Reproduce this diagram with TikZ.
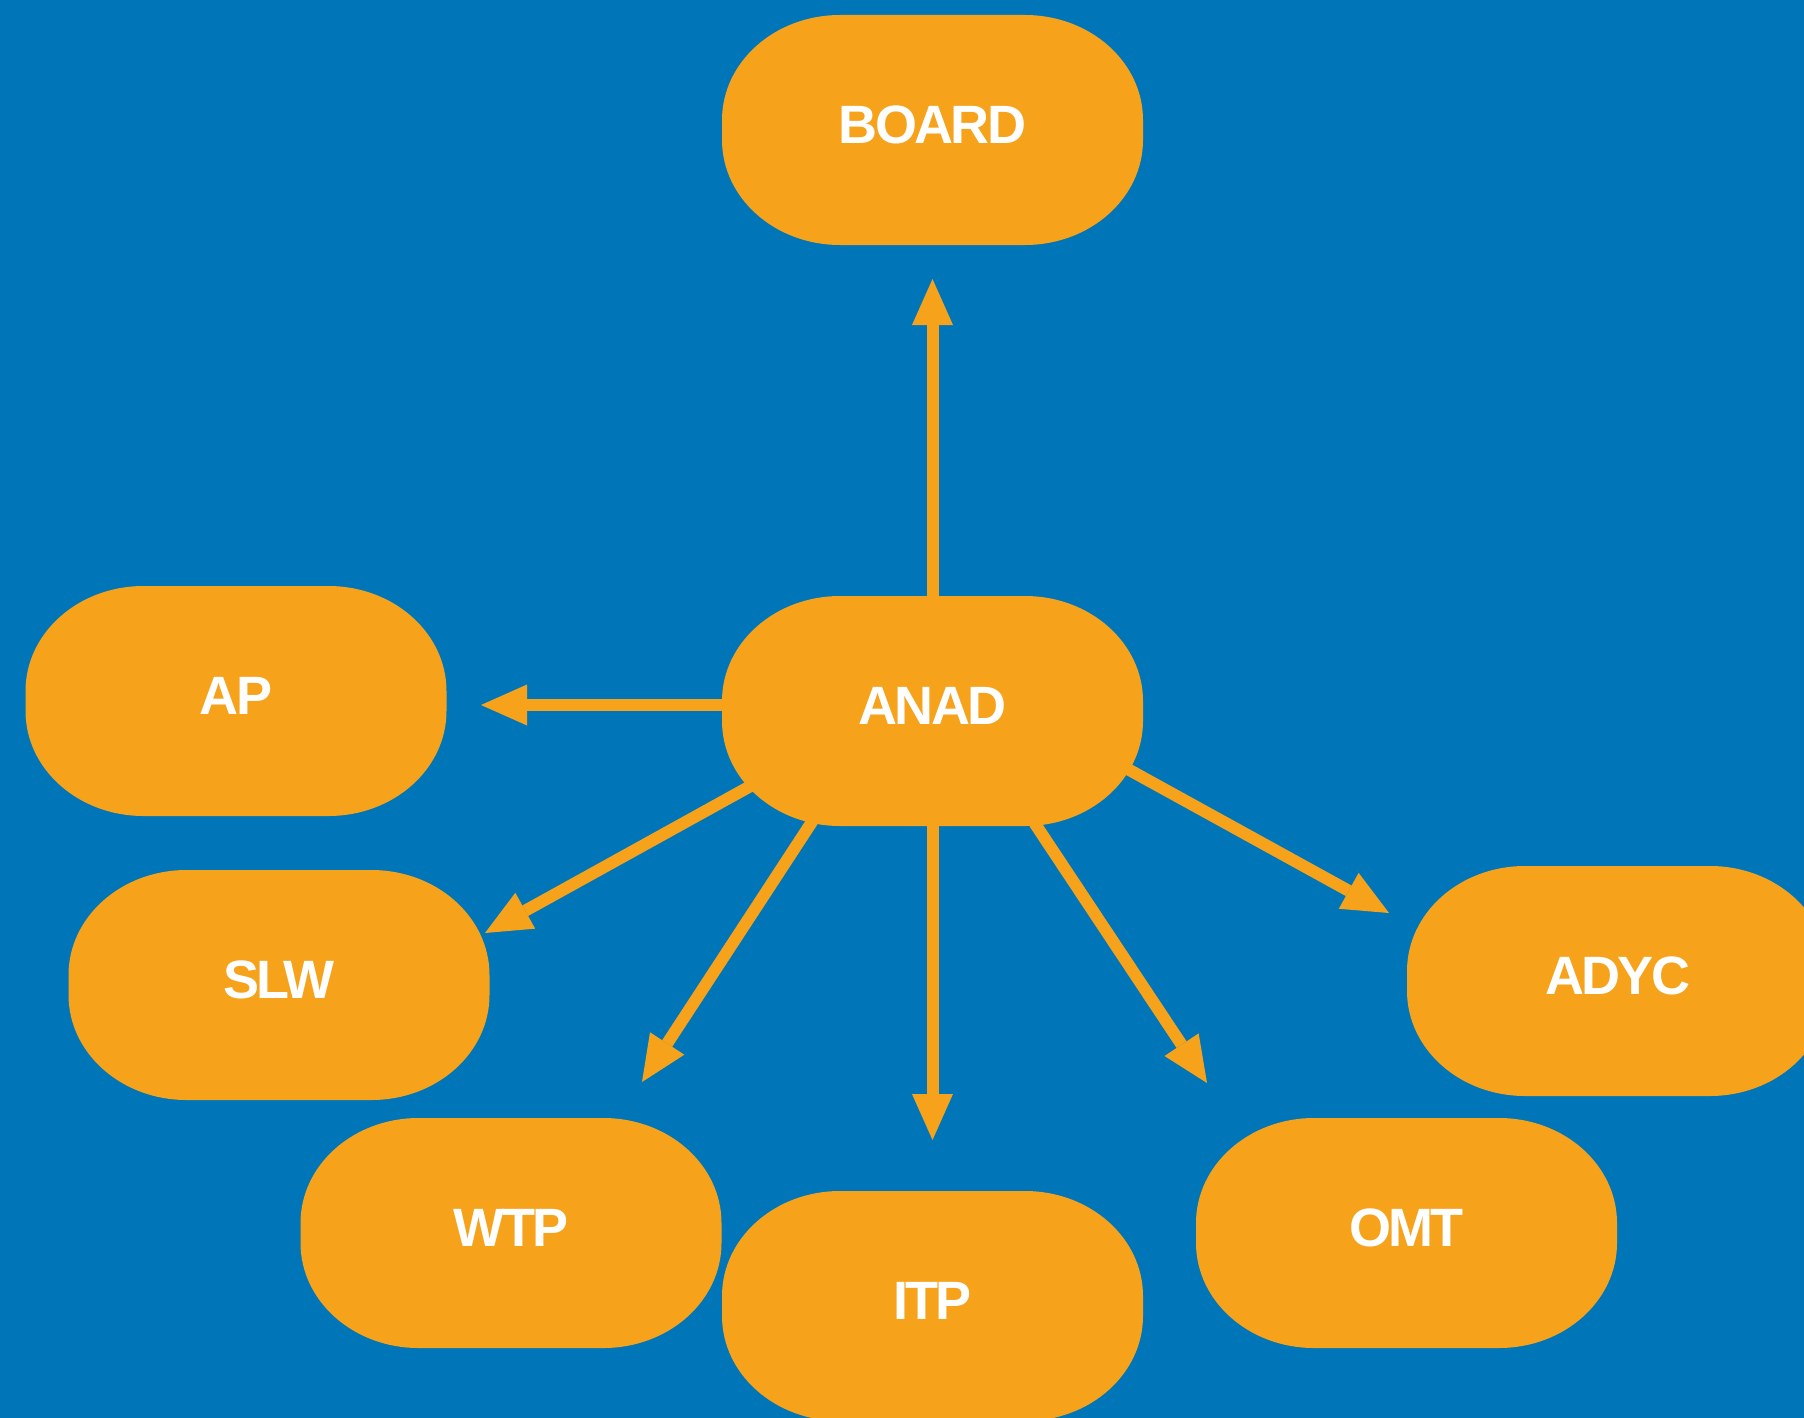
\documentclass[tikz,border=0pt]{standalone}
\usepackage{fontspec}
\setmainfont{Liberation Sans}
\newfontfamily\boxfont[LetterSpace=-5]{Liberation Sans}
\usetikzlibrary{arrows.meta,calc}
\definecolor{bgblue}{RGB}{0,118,185}
\definecolor{orng}{RGB}{246,162,26}
\tikzset{
  pillfill/.style={fill=orng},
  box/.style={rectangle, draw=none, fill=none,
    minimum width=421pt, minimum height=230pt, inner sep=0pt,
    text=white, text depth=10pt,
    font=\boxfont\bfseries\fontsize{54}{60}\selectfont},
  arr/.style={draw=orng, line width=12pt, line cap=butt,
    -{Triangle[length=46pt,width=41pt,line width=0pt]}}
}
\newcommand\pillat[2]{%
  \fill[pillfill,shift={(#1,#2)}] (-92.5,-115) -- (92.5,-115)
    arc[start angle=-90,end angle=0,x radius=118,y radius=105]
    -- (210.5,10)
    arc[start angle=0,end angle=90,x radius=118,y radius=105]
    -- (-92.5,115)
    arc[start angle=90,end angle=180,x radius=118,y radius=105]
    -- (-210.5,-10)
    arc[start angle=180,end angle=270,x radius=118,y radius=105] -- cycle;}
\begin{document}
\begin{tikzpicture}[x=1pt,y=-1pt]
\useasboundingbox (0,0) rectangle (1804,1418);
\clip (0,0) rectangle (1804,1418);
\fill[bgblue] (0,0) rectangle (1804,1418);

\pillat{932.5}{130}
\pillat{932.5}{711}
\pillat{236}{701}
\pillat{279}{985}
\pillat{511}{1233}
\pillat{932.5}{1306}
\pillat{1406.5}{1233}
\pillat{1617.5}{981}

\node[box] (BOARD) at (932.5,130) {BOARD};
\node[box] (ANAD)  at (932.5,711) {ANAD};
\node[box] (AP)    at (236,701)   {AP};
\node[box] (SLW)   at (279,985)   {SLW};
\node[box] (WTP)   at (511,1233)  {WTP};
\node[box] (ITP)   at (932.5,1306) {ITP};
\node[box] (OMT)   at (1406.5,1233) {OMT};
\node[box] (ADYC)  at (1617.5,981) {ADYC};

\coordinate (tBOARD) at (932.5,279);
\coordinate (tAP)    at (481,705);
\coordinate (tSLW)   at (485,933);
\coordinate (tWTP)   at (642,1082);
\coordinate (tITP)   at (932.5,1140);
\coordinate (tOMT)   at (1207,1083);
\coordinate (tADYC)  at (1389,913);

\draw[arr] ($(ANAD.north)+(0,6)$) -- (tBOARD);
\draw[arr] ($(ANAD.center)+(-205,-6)$) -- (tAP);
\draw[arr] ($(ANAD.center)+(-181,74.5)$) -- (tSLW);
\draw[arr] ($(ANAD.center)+(-120,110)$) -- (tWTP);
\draw[arr] ($(ANAD.south)+(0,-6)$) -- (tITP);
\draw[arr] ($(ANAD.center)+(102,112)$) -- (tOMT);
\draw[arr] ($(ANAD.center)+(196,58.5)$) -- (tADYC);
\end{tikzpicture}
\end{document}
